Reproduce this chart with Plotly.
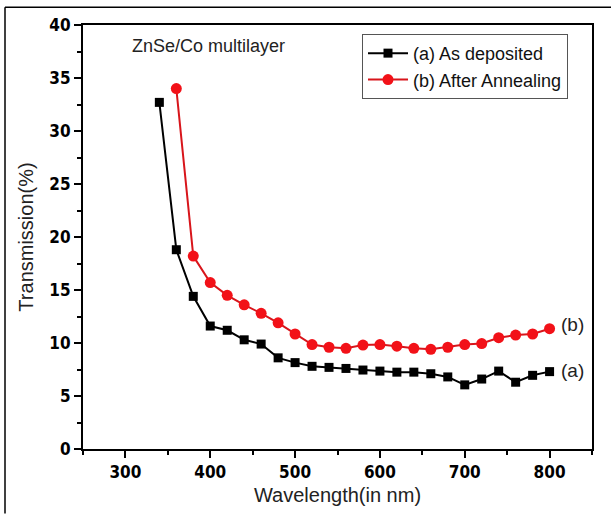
import plotly.graph_objects as go

# Wavelength grid (nm) and transmission (%) for each sample
wl_as_dep = [340, 360, 380, 400, 420, 440, 460, 480, 500, 520, 540, 560,
             580, 600, 620, 640, 660, 680, 700, 720, 740, 760, 780, 800]
t_as_dep = [32.7, 18.8, 14.4, 11.6, 11.2, 10.3, 9.9, 8.6, 8.15, 7.8, 7.7, 7.6,
            7.45, 7.35, 7.25, 7.25, 7.1, 6.8, 6.05, 6.6, 7.35, 6.3, 6.95, 7.3]

wl_annealed = [360, 380, 400, 420, 440, 460, 480, 500, 520, 540, 560, 580,
               600, 620, 640, 660, 680, 700, 720, 740, 760, 780, 800]
t_annealed = [34.0, 18.2, 15.7, 14.5, 13.6, 12.8, 11.9, 10.85, 9.85, 9.6, 9.5, 9.8,
              9.85, 9.7, 9.5, 9.4, 9.6, 9.85, 9.95, 10.5, 10.75, 10.85, 11.35]

x_ticks = [300, 400, 500, 600, 700, 800]
y_ticks = [0, 5, 10, 15, 20, 25, 30, 35, 40]

W, H = 611, 515
L, R, T, B = 83, 19, 25, 63
FONT = "Liberation Sans, Arial, sans-serif"
TICK_FONT = "Liberation Sans Narrow, DejaVu Sans Condensed, Liberation Sans, sans-serif"

fig = go.Figure()
fig.add_trace(go.Scatter(
    x=wl_as_dep, y=t_as_dep, mode="lines+markers", name="(a) As deposited",
    line=dict(color="black", width=2),
    marker=dict(symbol="square", size=9, color="black"),
))
fig.add_trace(go.Scatter(
    x=wl_annealed, y=t_annealed, mode="lines+markers", name="(b) After Annealing",
    line=dict(color="#d8151b", width=2),
    marker=dict(symbol="circle", size=11, color="#f21118"),
))

axis_common = dict(
    showgrid=False, zeroline=False, showline=True, linecolor="black", linewidth=2,
    mirror=True, ticks="outside", ticklen=7, tickwidth=2, tickcolor="black",
    tickfont=dict(family=TICK_FONT, size=17, color="black", weight="bold"),
    title_font=dict(family=FONT, size=20, color="#222"),
)

fig.update_xaxes(
    range=[250, 850], tickvals=x_ticks,
    title_text="Wavelength(in nm)", title_standoff=7,
    minor=dict(ticks="outside", ticklen=4, tickwidth=2, tickcolor="black", dtick=50, tick0=250),
    **axis_common,
)
fig.update_yaxes(
    range=[0, 40], tickvals=y_ticks,
    title_text="Transmission(%)", title_standoff=10,
    minor=dict(ticks="outside", ticklen=4, tickwidth=2, tickcolor="black", dtick=2.5, tick0=0),
    **axis_common,
)

pw, ph = W - L - R, H - T - B


def px_x(px):
    return (px - L) / pw


def px_y(py):
    return (H - B - py) / ph


# Sample name and curve labels
fig.add_annotation(x=px_x(208), y=px_y(46), xref="paper", yref="paper",
                   text="ZnSe/Co multilayer", showarrow=False, xanchor="center",
                   yanchor="middle", font=dict(family=FONT, size=18, color="#222"))
fig.add_annotation(x=800, y=t_annealed[-1], xref="x", yref="y", text="(b)",
                   showarrow=False, xanchor="left", xshift=9, yshift=4,
                   font=dict(family=FONT, size=19, color="#222"))
fig.add_annotation(x=800, y=t_as_dep[-1], xref="x", yref="y", text="(a)",
                   showarrow=False, xanchor="left", xshift=9, yshift=1,
                   font=dict(family=FONT, size=19, color="#222"))

# Outer frame (top and left edges)
fig.add_shape(type="line", xref="paper", yref="paper",
              x0=px_x(5), y0=px_y(7), x1=px_x(W + 2), y1=px_y(7),
              line=dict(color="black", width=1.5))
fig.add_shape(type="line", xref="paper", yref="paper",
              x0=px_x(5), y0=px_y(7), x1=px_x(5), y1=px_y(H + 2),
              line=dict(color="black", width=1.5))

fig.update_layout(
    width=W, height=H,
    margin=dict(l=L, r=R, t=T, b=B),
    paper_bgcolor="white", plot_bgcolor="white",
    showlegend=True,
    legend=dict(
        x=px_x(362), y=px_y(34), xanchor="left", yanchor="top",
        bgcolor="white", bordercolor="#555", borderwidth=1,
        font=dict(family=FONT, size=18, color="#111"),
        itemwidth=40, tracegroupgap=0,
        entrywidth=185, entrywidthmode="pixels",
    ),
)

fig.write_html("out.html")
